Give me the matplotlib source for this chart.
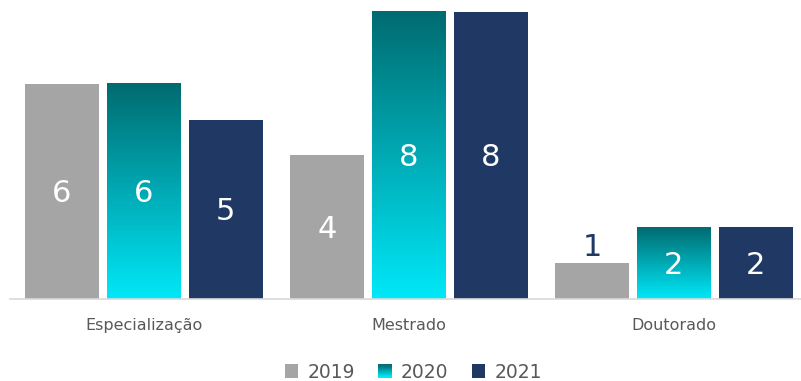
import numpy as np
import matplotlib
matplotlib.use("Agg")
import matplotlib.pyplot as plt
from matplotlib.colors import LinearSegmentedColormap
from matplotlib.patches import Rectangle
from matplotlib.legend_handler import HandlerBase

categorias = ["Especialização", "Mestrado", "Doutorado"]
anos = ["2019", "2020", "2021"]
valores_2019 = [6, 4, 1]
valores_2020 = [6, 8, 2]
valores_2021 = [5, 8, 2]

cinza = "#a5a5a5"
azul = "#203864"
teal_topo = "#006b70"
teal_base = "#00e8f8"
grad = LinearSegmentedColormap.from_list("grad", [teal_base, teal_topo])


class HandlerGradiente(HandlerBase):
    def create_artists(self, legend, orig_handle, xdescent, ydescent,
                       width, height, fontsize, trans):
        n = 12
        arts = []
        lado = height * 1.0
        x0 = xdescent + (width - lado) / 2
        for i in range(n):
            r = Rectangle((x0, -ydescent + lado * i / n - (lado - height) / 2),
                          lado, lado / n + 0.3, facecolor=grad(i / (n - 1)),
                          edgecolor="none", transform=trans)
            arts.append(r)
        return arts


class HandlerQuadrado(HandlerBase):
    def create_artists(self, legend, orig_handle, xdescent, ydescent,
                       width, height, fontsize, trans):
        lado = height * 1.0
        x0 = xdescent + (width - lado) / 2
        r = Rectangle((x0, -ydescent - (lado - height) / 2), lado, lado,
                      facecolor=orig_handle.get_facecolor(), edgecolor="none",
                      transform=trans)
        return [r]


fig = plt.figure(figsize=(8.01, 3.81), dpi=100)
ax = fig.add_axes([10 / 801, 82 / 381, 791 / 801, 299 / 381])

x = np.arange(len(categorias))
passo = 0.309
largura = 0.279
ymax = 8.33

fonte = "DejaVu Sans"

b19 = ax.bar(x - passo, valores_2019, largura, color=cinza, zorder=2)
b21 = ax.bar(x + passo, valores_2021, largura, color=azul, zorder=2)
b20 = ax.bar(x, valores_2020, largura, color="none", zorder=2)

gradiente = np.linspace(0, 1, 256).reshape(-1, 1)
for barra in b20:
    x0 = barra.get_x()
    h = barra.get_height()
    ax.imshow(gradiente, cmap=grad, origin="lower", aspect="auto",
              extent=[x0, x0 + barra.get_width(), 0, h], zorder=2)

for barras, vals in [(b19, valores_2019), (b20, valores_2020), (b21, valores_2021)]:
    for barra, v in zip(barras, vals):
        cx = barra.get_x() + barra.get_width() / 2
        if v >= 2:
            ax.text(cx, v / 2 - 0.06, str(v), ha="center", va="center", color="white",
                    fontsize=22, family=fonte, zorder=3)
        else:
            ax.text(cx, v + 0.03, str(v), ha="center", va="bottom", color=azul,
                    fontsize=22, family=fonte, zorder=3)

ax.set_xlim(-0.505, 2.48)
ax.set_ylim(0, ymax)
for s in ["top", "right", "left"]:
    ax.spines[s].set_visible(False)
ax.spines["bottom"].set_color("#d9d9d9")
ax.spines["bottom"].set_linewidth(1.2)
ax.set_yticks([])
ax.set_xticks(x)
ax.set_xticklabels(categorias, fontsize=11.5, color="#595959", family=fonte)
ax.tick_params(axis="x", length=0, pad=14)

h19 = Rectangle((0, 0), 1, 1, facecolor=cinza)
h20 = Rectangle((0, 0), 1, 1, facecolor=teal_topo)
h21 = Rectangle((0, 0), 1, 1, facecolor=azul)
leg = fig.legend([h19, h20, h21], anos, loc="center", bbox_to_anchor=(413 / 801, 9 / 381),
                 ncol=3, frameon=False, handlelength=0.8,
                 handletextpad=0.45, columnspacing=1.2,
                 handler_map={h19: HandlerQuadrado(), h20: HandlerGradiente(),
                              h21: HandlerQuadrado()},
                 prop={"family": fonte, "size": 13.5})
for t in leg.get_texts():
    t.set_color("#595959")

fig.savefig("out.png", dpi=100)
